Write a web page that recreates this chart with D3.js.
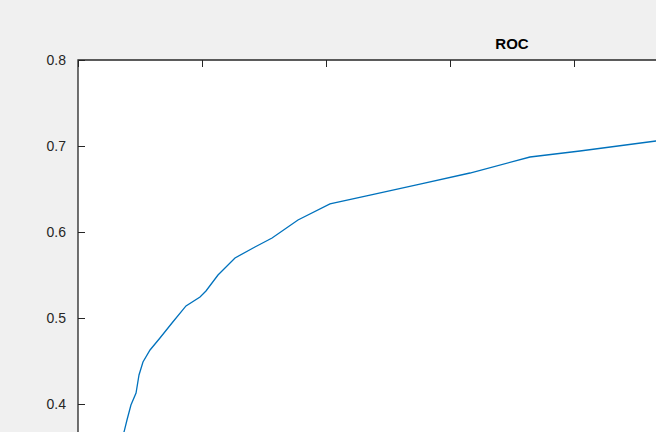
<!DOCTYPE html>
<html><head><meta charset="utf-8">
<script src="https://cdn.jsdelivr.net/npm/d3@7"></script>
<style>body{margin:0;background:#f0f0f0;overflow:hidden}</style>
</head><body><div id="canvas"></div>
<script>
var fpr = [0.0339,0.0371,0.0395,0.0427,0.0468,0.0492,0.0524,0.0581,0.0661,0.0758,0.0871,0.0984,0.1032,0.1129,0.1266,0.1427,0.1565,0.1774,0.2032,0.2355,0.2758,0.3161,0.3645,0.4048,0.4661,0.5016];
var tpr = [0.3523,0.3674,0.3814,0.3988,0.4128,0.4337,0.4488,0.4628,0.4767,0.4942,0.5140,0.5244,0.5314,0.5500,0.5698,0.5826,0.5930,0.6140,0.6326,0.6430,0.6558,0.6686,0.6872,0.6942,0.7058,0.7105];
var yTicks = [0.4,0.5,0.6,0.7,0.8];
var xTicks = [0,0.1,0.2,0.3,0.4,0.5,0.6,0.7];

svg = d3.select('#canvas').append('svg')
  .attr('width',656).attr('height',432);

var x = d3.scaleLinear().domain([0,0.7]).range([78,946]);
var y = d3.scaleLinear().domain([0.3,0.8]).range([490,60]);

svg.append('rect').attr('x',78).attr('y',60).attr('width',868).attr('height',430)
  .attr('fill','white');

svg.append('defs').append('clipPath').attr('id','clip')
  .append('rect').attr('x',78).attr('y',60).attr('width',868).attr('height',430);

svg.append('path')
  .datum(d3.zip(fpr,tpr))
  .attr('clip-path','url(#clip)')
  .attr('d',d3.line().x(function(d){return x(d[0]);}).y(function(d){return y(d[1]);}))
  .attr('fill','none').attr('stroke','#0072BD').attr('stroke-width',1.3);

// box with inward ticks
svg.append('g').attr('transform','translate(0,60)')
  .call(d3.axisTop(x).tickValues(xTicks).tickSize(-7).tickFormat(''))
  .call(function(g){g.select('.domain').remove();})
  .selectAll('line').attr('stroke','#262626');

var ya = svg.append('g').attr('transform','translate(78,0)')
  .call(d3.axisLeft(y).tickValues(yTicks).tickSize(-7).tickPadding(12).tickFormat(d3.format('.1f')));
ya.select('.domain').remove();
ya.selectAll('line').attr('stroke','#262626');
ya.selectAll('text').attr('font-family','Liberation Sans, Arial, sans-serif')
  .attr('font-size',14).attr('fill','#262626');

svg.append('path').attr('d','M78 490 V60 H946')
  .attr('fill','none').attr('stroke','#262626').attr('stroke-width',1.3);

svg.append('text').attr('x',512).attr('y',49).attr('text-anchor','middle')
  .attr('font-family','Liberation Sans, Arial, sans-serif').attr('font-weight','bold')
  .attr('font-size',15).attr('fill','#000').text('ROC');
</script></body></html>
